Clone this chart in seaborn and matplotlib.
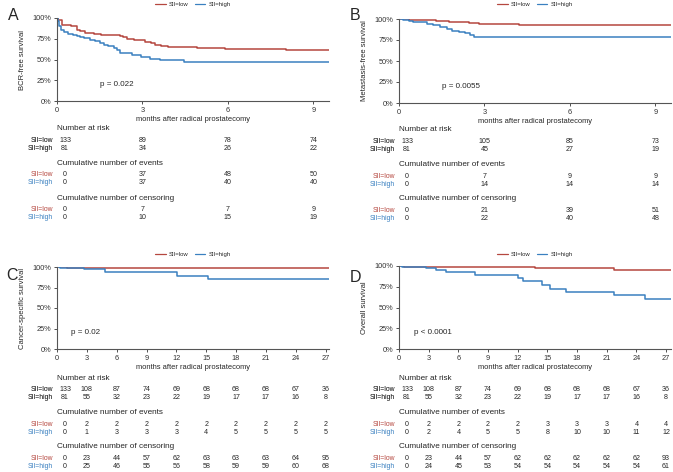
import matplotlib
matplotlib.use("Agg")
import matplotlib.pyplot as plt
from matplotlib import transforms
from matplotlib.lines import Line2D
import numpy as np
import pandas as pd
import seaborn as sns

sns.set_style("ticks")
plt.rcParams['font.family'] = ['Liberation Sans', 'DejaVu Sans']

RED = "#B5473F"
BLUE = "#3A80C0"
groups = ["SII=low", "SII=high"]

# ---- curve data (months, survival) ----
a_low_t = [0, 0.05, 0.17, 0.5, 0.7, 0.8, 1.0, 1.3, 1.55, 2.2, 2.3, 2.45, 2.7, 3.1, 3.3, 3.45, 3.65, 3.9, 4.9, 5.9, 6.6, 8.05, 9.55]
a_low_s = [1.0, 0.97, 0.91, 0.90, 0.86, 0.84, 0.82, 0.81, 0.79, 0.78, 0.77, 0.745, 0.73, 0.715, 0.70, 0.68, 0.66, 0.645, 0.64, 0.63, 0.625, 0.61, 0.61]
a_high_t = [0, 0.04, 0.08, 0.15, 0.25, 0.4, 0.55, 0.7, 0.8, 0.95, 1.15, 1.35, 1.5, 1.65, 1.8, 2.0, 2.1, 2.2, 2.65, 2.95, 3.25, 3.6, 4.45, 9.55]
a_high_s = [1.0, 0.96, 0.90, 0.86, 0.83, 0.81, 0.80, 0.78, 0.77, 0.755, 0.74, 0.72, 0.70, 0.68, 0.66, 0.635, 0.62, 0.58, 0.55, 0.525, 0.51, 0.49, 0.47, 0.47]

b_low_t = [0, 0.35, 0.8, 1.3, 1.75, 2.45, 2.8, 3.25, 4.2, 9.55]
b_low_s = [1.0, 0.99, 0.985, 0.975, 0.965, 0.955, 0.945, 0.935, 0.925, 0.925]
b_high_t = [0, 0.15, 0.35, 0.5, 0.8, 1.0, 1.2, 1.45, 1.7, 1.85, 2.1, 2.3, 2.5, 2.65, 9.55]
b_high_s = [1.0, 0.99, 0.98, 0.97, 0.96, 0.945, 0.925, 0.905, 0.88, 0.86, 0.845, 0.83, 0.81, 0.79, 0.79]

c_low_t = [0, 1.0, 3.7, 27.35]
c_low_s = [1.0, 0.993, 0.985, 0.985]
c_high_t = [0, 0.3, 2.7, 3.6, 4.8, 12.1, 15.2, 27.35]
c_high_s = [1.0, 0.99, 0.98, 0.97, 0.94, 0.895, 0.85, 0.85]

d_low_t = [0, 0.5, 2.8, 13.8, 21.7, 27.5]
d_low_s = [1.0, 0.993, 0.985, 0.975, 0.955, 0.955]
d_high_t = [0, 0.3, 2.7, 3.7, 4.8, 7.7, 12.0, 12.5, 14.5, 15.3, 16.9, 21.7, 24.9, 27.5]
d_high_s = [1.0, 0.99, 0.975, 0.955, 0.93, 0.89, 0.85, 0.815, 0.77, 0.725, 0.69, 0.645, 0.60, 0.60]

# ---- tables ----
ab_times = [0, 3, 6, 9]
cd_times = [0, 3, 6, 9, 12, 15, 18, 21, 24, 27]

a_risk = ([133, 89, 78, 74], [81, 34, 26, 22])
a_events = ([0, 37, 48, 50], [0, 37, 40, 40])
a_cens = ([0, 7, 7, 9], [0, 10, 15, 19])

b_risk = ([133, 105, 85, 73], [81, 45, 27, 19])
b_events = ([0, 7, 9, 9], [0, 14, 14, 14])
b_cens = ([0, 21, 39, 51], [0, 22, 40, 48])

c_risk = ([133, 108, 87, 74, 69, 68, 68, 68, 67, 36], [81, 55, 32, 23, 22, 19, 17, 17, 16, 8])
c_events = ([0, 2, 2, 2, 2, 2, 2, 2, 2, 2], [0, 1, 3, 3, 3, 4, 5, 5, 5, 5])
c_cens = ([0, 23, 44, 57, 62, 63, 63, 63, 64, 95], [0, 25, 46, 55, 56, 58, 59, 59, 60, 68])

d_risk = ([133, 108, 87, 74, 69, 68, 68, 68, 67, 36], [81, 55, 32, 23, 22, 19, 17, 17, 16, 8])
d_events = ([0, 2, 2, 2, 2, 3, 3, 3, 4, 4], [0, 2, 4, 5, 5, 8, 10, 10, 11, 12])
d_cens = ([0, 23, 44, 57, 62, 62, 62, 62, 62, 93], [0, 24, 45, 53, 54, 54, 54, 54, 54, 61])

W, H = 673, 472
fig = plt.figure(figsize=(W / 100, H / 100), dpi=100)


def px_axes(l, t, r, b):
    return fig.add_axes([l / W, 1 - b / H, (r - l) / W, (b - t) / H])


def fy(ypix):
    return 1 - ypix / H


def panel(letter, box, letter_xy, low, high, xmax, xticks, ylabel, ptext, px,
          legend_y, table_top, times, risk, events, cens):
    ax = px_axes(*box)
    df = pd.concat([
        pd.DataFrame({"time": low[0], "surv": low[1], "group": groups[0]}),
        pd.DataFrame({"time": high[0], "surv": high[1], "group": groups[1]}),
    ])
    sns.lineplot(data=df, x="time", y="surv", hue="group", palette=[RED, BLUE],
                 drawstyle="steps-post", estimator=None, sort=False,
                 linewidth=1.1, legend=False, ax=ax)
    ax.set_xlim(0, xmax)
    ax.set_ylim(0, 1.0)
    ax.set_xticks(xticks)
    ax.set_yticks([0, 0.25, 0.5, 0.75, 1.0])
    ax.set_yticklabels(["0%", "25%", "50%", "75%", "100%"])
    ax.tick_params(labelsize=5.3, length=2.5, width=0.6, pad=1.5, colors="#333333")
    for s in ["left", "bottom"]:
        ax.spines[s].set_color("#555555")
        ax.spines[s].set_linewidth(0.8)
    sns.despine(ax=ax)
    ax.set_xlabel("months after radical prostatecomy", fontsize=5.4, labelpad=1.5)
    ax.set_ylabel(ylabel, fontsize=5.5, labelpad=4.5)
    ax.text(px, 0.2, ptext, fontsize=5.8, va="center", ha="left")

    # letter
    fig.text(letter_xy[0] / W, fy(letter_xy[1]), letter, fontsize=11.5, va="center", ha="left")

    # legend
    handles = [Line2D([], [], color=RED, lw=0.9), Line2D([], [], color=BLUE, lw=0.9)]
    cx = (box[0] + box[2]) / 2 / W
    fig.legend(handles, groups, loc="center", bbox_to_anchor=(cx, fy(legend_y)),
               ncol=2, fontsize=4.3, frameon=False, handlelength=1.8,
               columnspacing=1.0, handletextpad=0.5)

    # tables
    trans = transforms.blended_transform_factory(ax.transData, fig.transFigure)
    first = transforms.offset_copy(trans, fig=fig, x=8, y=0, units="dots")
    lab_x = (box[0] - 4) / W
    tit_x = box[0] / W
    blocks = [("Number at risk", risk, ["black", "black"]),
              ("Cumulative number of events", events, [RED, BLUE]),
              ("Cumulative number of censoring", cens, [RED, BLUE])]
    y0 = table_top
    for title, rows, cols in blocks:
        fig.text(tit_x, fy(y0), title, fontsize=5.9, va="center", ha="left")
        for k, (vals, col) in enumerate(zip(rows, cols)):
            yy = fy(y0 + 11.5 + k * 8)
            fig.text(lab_x, yy, groups[k], fontsize=4.9, color=col, va="center", ha="right")
            for j, (t, v) in enumerate(zip(times, vals)):
                ax.text(t, yy, str(v), fontsize=5.1, va="center", ha="center",
                        transform=first if j == 0 else trans, clip_on=False)
        y0 += 34.5
    return ax


panel("A", (57, 18, 329, 101), (8, 15), (a_low_t, a_low_s), (a_high_t, a_high_s),
      9.55, [0, 3, 6, 9], "BCR-free survival", "p = 0.022", 1.5, 4.5, 129,
      ab_times, a_risk, a_events, a_cens)
panel("B", (399, 19, 671, 103), (350, 15), (b_low_t, b_low_s), (b_high_t, b_high_s),
      9.55, [0, 3, 6, 9], "Metastasis-free survival", "p = 0.0055", 1.5, 4.5, 130,
      ab_times, b_risk, b_events, b_cens)
panel("C", (57, 267, 329, 349), (6, 275), (c_low_t, c_low_s), (c_high_t, c_high_s),
      27.35, cd_times, "Cancer-specific survival", "p = 0.02", 1.4, 254, 378,
      cd_times, c_risk, c_events, c_cens)
panel("D", (399, 266, 671, 349), (350, 278), (d_low_t, d_low_s), (d_high_t, d_high_s),
      27.5, cd_times, "Overall survival", "p < 0.0001", 1.5, 254, 378,
      cd_times, d_risk, d_events, d_cens)

fig.savefig("out.png", dpi=100)
